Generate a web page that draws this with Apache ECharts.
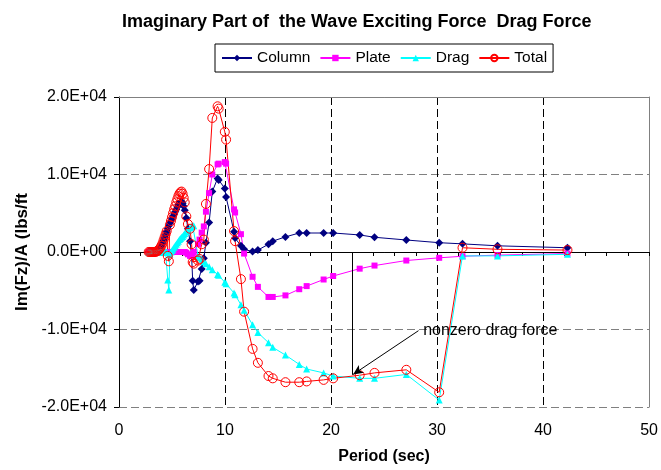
<!DOCTYPE html>
<html><head><meta charset="utf-8">
<script src="https://cdn.jsdelivr.net/npm/echarts/dist/echarts.min.js"></script>
<style>html,body{margin:0;padding:0;background:#fff}#c{width:661px;height:470px}</style>
</head><body><div id="c"></div>
<script>
const periods = [2.8,2.9,3.0,3.1,3.2,3.3,3.4,3.5,3.6,3.7,3.8,3.9,
  4.0,4.1,4.2,4.3,4.4,4.5,4.6,4.7,4.8,4.9,
  5.0,5.1,5.2,5.3,5.4,5.5,5.6,5.7,5.8,5.9,
  6.0,6.1,6.2,6.35,6.5,6.7,6.85,6.95,7.05,
  7.45,7.6,7.8,8.0,8.2,8.5,8.8,9.3,9.4,
  9.98,10.1,10.85,10.95,11.5,11.8,
  12.6,13.1,14.1,14.5,15.7,17.0,17.7,19.3,20.2,22.7,24.1,27.1,30.2,32.4,35.7,42.3];
const columnValues = [0,0,0,0,0,0,0,50,100,200,350,550,
  800,1100,1450,1800,2200,2600,3000,3400,3700,4000,
  4300,4600,4900,5200,5500,5800,6100,6300,6450,6500,
  6300,5900,5400,4400,3000,1400,-500,-3700,-4900,
  -3800,-3700,-2200,-800,1200,3800,7800,9500,9300,
  8200,7100,2600,1800,800,350,
  50,250,1000,1400,1950,2450,2450,2450,2450,2200,1900,1550,1200,1050,800,550];
const plateValues = [0,0,0,0,0,0,0,0,0,0,0,0,
  0,0,0,0,0,0,0,0,0,0,
  0,0,0,0,0,0,0,0,0,0,
  0,0,0,-100,-300,-500,-500,-300,0,
  1000,1600,2500,3300,5200,7600,10000,11300,11400,
  11600,11400,5500,5100,2300,-200,
  -3200,-4500,-5800,-5800,-5600,-4800,-4400,-3550,-3100,-2150,-1750,-1100,-750,-550,-400,-200];
const dragValues = [0,0,0,0,0,0,0,0,0,0,0,0,
  0,0,0,0,0,0,-3600,-4900,-300,0,
  200,400,600,800,1000,1200,1400,1600,1750,1900,
  2000,2200,2400,2600,2800,3100,3300,3400,3400,
  -500,-700,-950,-1250,-1500,-1900,-2300,-2900,-3000,
  -3900,-4100,-5300,-5500,-6800,-7500,
  -9400,-10400,-11700,-12300,-13300,-14500,-15100,-15600,-16000,-16300,-16300,-15800,-19100,-500,-500,-300];
const totalValues = [0,0,0,0,0,0,0,50,100,200,350,550,
  800,1100,1500,1900,2300,2700,-500,-1200,3500,4000,
  4500,5000,5500,5900,6400,6800,7200,7500,7700,7800,
  7500,7000,6400,4600,3600,3000,1000,-1300,-1500,
  -1100,-900,1000,1600,6200,10700,17300,18800,18500,
  15500,14500,2700,1400,-3500,-7700,
  -12500,-14300,-16000,-16300,-16800,-16800,-16700,-16500,-16300,-15900,-15600,-15200,-18100,550,350,250];
const seriesNames = ['Column','Plate','Drag','Total'];
const xTickLabels = ['0','10','20','30','40','50'];
const yTickLabels = ['-2.0E+04','-1.0E+04','0.0E+00','1.0E+04','2.0E+04'];
const annotationText = 'nonzero drag force';
const annotationVLine = [[22.0, 0], [22.0, -15850]];
const annotationArrow = [[28.25, -10150], [22.08, -15800]];
const annotationTextAt = [28.5, -10100];

const font = 'Arial, "Liberation Sans", sans-serif';
const pair = v => periods.map((p, i) => [p, v[i]]);
const chart = echarts.init(document.getElementById('c'), null, {renderer: 'canvas'});
const option = {
  animation: false,
  backgroundColor: '#fff',
  textStyle: {fontFamily: font},
  title: {
    text: 'Imaginary Part of  the Wave Exciting Force  Drag Force',
    left: 117, top: 8,
    textStyle: {fontSize: 18, fontWeight: 'bold', color: '#000', fontFamily: font}
  },
  legend: {
    data: seriesNames, left: 215, top: 44,
    borderColor: '#000', borderWidth: 1, padding: [6, 6, 6, 6],
    itemWidth: 30, itemHeight: 8, itemGap: 9,
    textStyle: {fontSize: 15.5, color: '#000', fontFamily: font}
  },
  grid: {left: 119, right: 11, top: 97, bottom: 63, containLabel: false},
  xAxis: [
    {type: 'value', min: 0, max: 50, interval: 10, position: 'bottom',
     axisLine: {show: false, onZero: false}, axisTick: {show: false},
     axisLabel: {margin: 16, fontSize: 16, color: '#000', fontFamily: font,
       formatter: v => xTickLabels[Math.round(v / 10)]},
     splitLine: {show: true, lineStyle: {color: ['rgba(0,0,0,0)', '#000', '#000', '#000', '#000', 'rgba(0,0,0,0)'], type: [8, 4], width: 1}},
     name: 'Period (sec)', nameLocation: 'middle', nameGap: 42,
     nameTextStyle: {fontSize: 16, fontWeight: 'bold', color: '#000', fontFamily: font}},
    {type: 'value', min: 0, max: 50, interval: 2, position: 'bottom',
     axisLine: {show: true, onZero: true, onZeroAxisIndex: 0, lineStyle: {color: '#000', width: 1}},
     axisTick: {show: true, length: 4, lineStyle: {color: '#000'}},
     axisLabel: {show: false}, splitLine: {show: false}},
    {type: 'value', min: 0, max: 50, position: 'top',
     axisLine: {show: true, onZero: false, lineStyle: {color: '#808080', width: 1}},
     axisTick: {show: false}, axisLabel: {show: false}, splitLine: {show: false}}
  ],
  yAxis: [
    {type: 'value', min: -20000, max: 20000, interval: 10000, position: 'left',
     axisLine: {show: true, onZero: false, lineStyle: {color: '#000', width: 1}},
     axisTick: {show: true, length: 5, lineStyle: {color: '#000'}},
     axisLabel: {margin: 12, fontSize: 16, color: '#000', fontFamily: font,
       formatter: v => yTickLabels[Math.round((v + 20000) / 10000)]},
     splitLine: {show: true, lineStyle: {color: ['#808080', '#808080', 'rgba(0,0,0,0)', '#808080', 'rgba(0,0,0,0)'], type: [8, 4], width: 1}},
     name: 'Im(Fz)/A (lbs/ft', nameLocation: 'middle', nameGap: 88,
     nameTextStyle: {fontSize: 17, fontWeight: 'bold', color: '#000', fontFamily: font}},
    {type: 'value', min: -20000, max: 20000, interval: 10000, position: 'right',
     axisLine: {show: true, onZero: false, lineStyle: {color: '#808080', width: 1}},
     axisTick: {show: false}, axisLabel: {show: false}, splitLine: {show: false}}
  ],
  series: [
    {name: 'Column', type: 'line', data: pair(columnValues), symbol: 'diamond', symbolSize: 8,
     lineStyle: {width: 1, color: '#000080'}, itemStyle: {color: '#000080'}},
    {name: 'Plate', type: 'line', data: pair(plateValues), symbol: 'rect', symbolSize: 6,
     lineStyle: {width: 1, color: '#FF00FF'}, itemStyle: {color: '#FF00FF'}},
    {name: 'Drag', type: 'line', data: pair(dragValues), symbol: 'triangle', symbolSize: 7,
     lineStyle: {width: 1, color: '#00FFFF'}, itemStyle: {color: '#00FFFF'}},
    {name: 'Total', type: 'line', data: pair(totalValues), symbol: 'circle', symbolSize: 9,
     lineStyle: {width: 1, color: '#FF0000'},
     itemStyle: {color: 'rgba(255,255,255,0)', borderColor: '#FF0000', borderWidth: 1}},
    {name: 'annotation', type: 'line', data: [], silent: true,
     markLine: {silent: true, animation: false, symbol: ['none', 'none'],
       lineStyle: {color: '#000', width: 1, type: 'solid'}, label: {show: false},
       data: [
         [{coord: annotationVLine[0], symbol: 'none'}, {coord: annotationVLine[1], symbol: 'none'}],
         [{coord: annotationArrow[0], symbol: 'none'}, {coord: annotationArrow[1], symbol: 'arrow', symbolSize: [7, 10]}]
       ]},
     markPoint: {silent: true, symbol: 'circle', symbolSize: 0, itemStyle: {color: 'rgba(0,0,0,0)'},
       data: [{coord: annotationTextAt, label: {show: true, position: 'right', distance: 2,
         formatter: annotationText, color: '#000', fontSize: 16, fontFamily: font}}]}}
  ]
};
chart.setOption(option);
</script>
</body></html>
